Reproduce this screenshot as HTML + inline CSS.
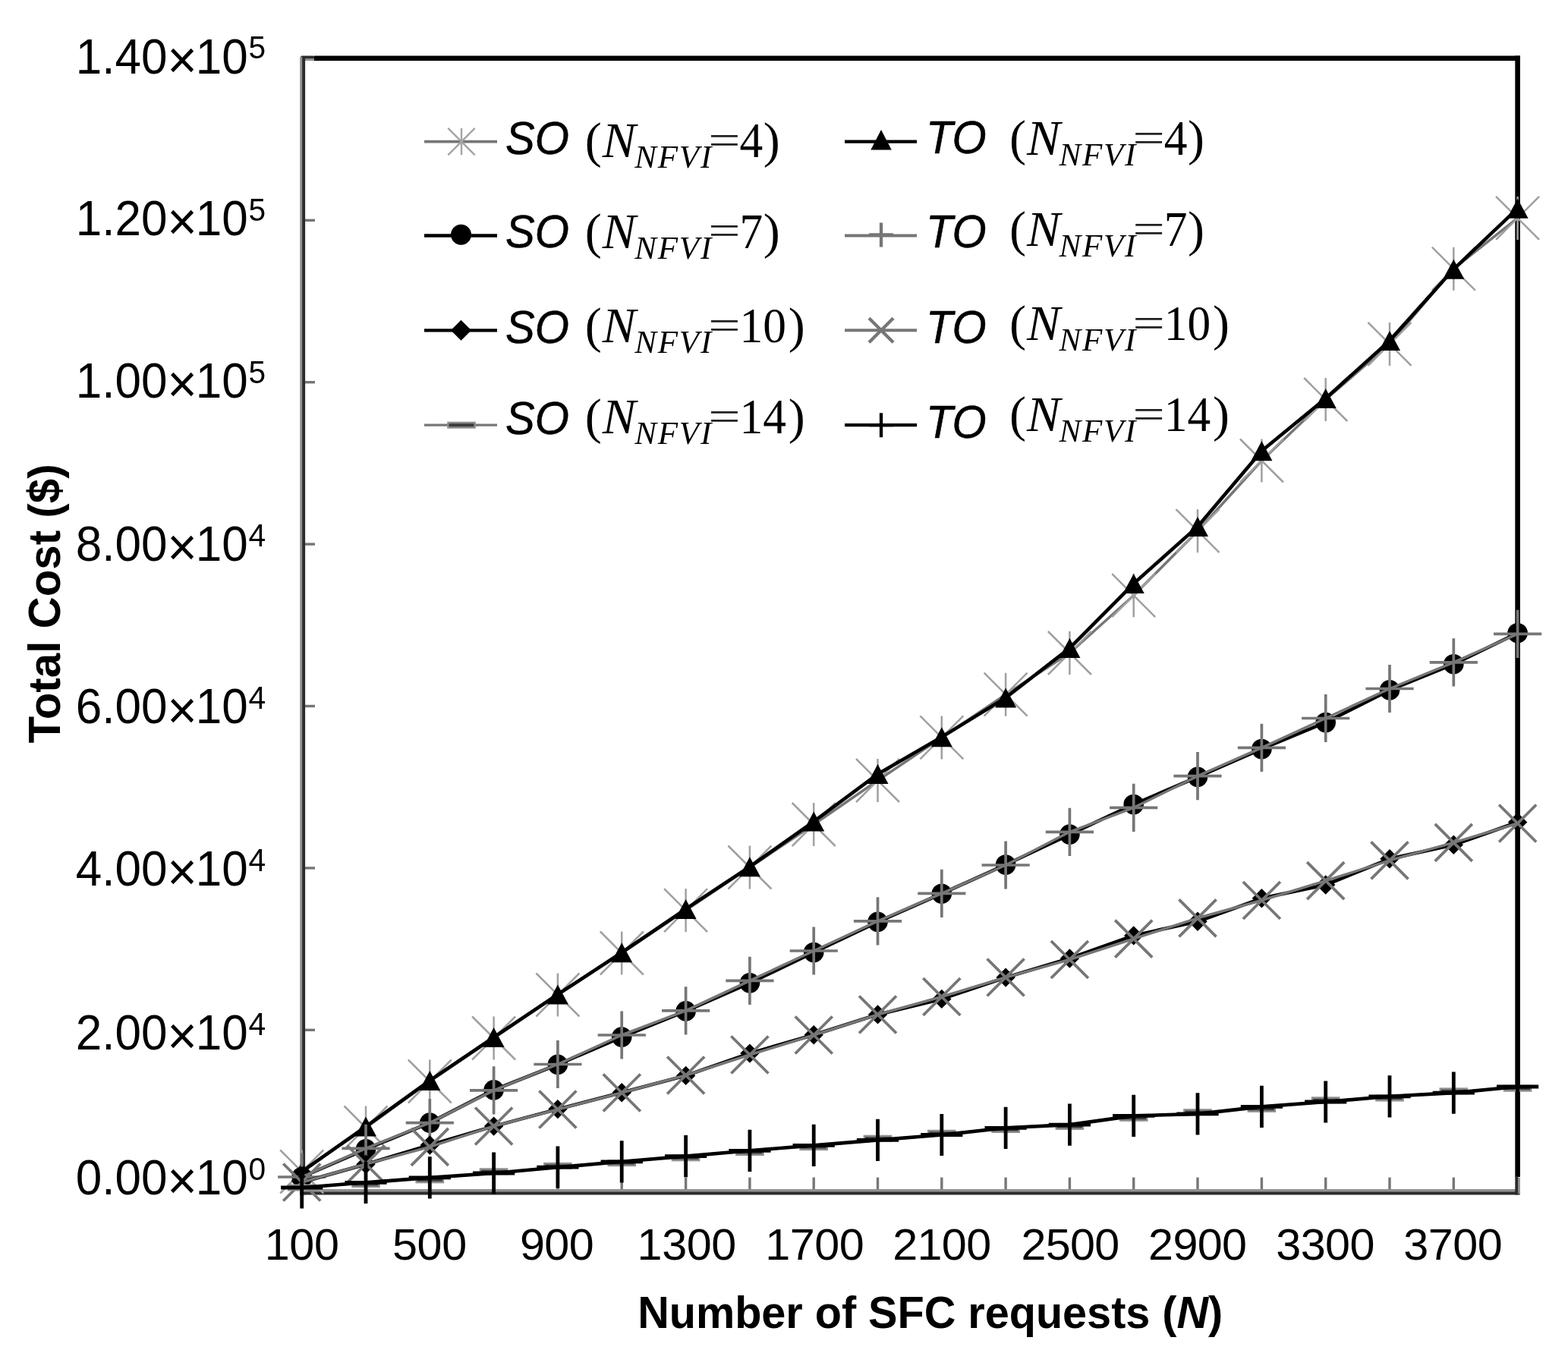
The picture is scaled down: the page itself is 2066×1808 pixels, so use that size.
<!DOCTYPE html>
<html lang="en">
<head>
<meta charset="utf-8">
<title>Total Cost vs Number of SFC requests</title>
<style>
html,body{margin:0;padding:0;background:#fff;}
body{width:2066px;height:1808px;overflow:hidden;}
svg{display:block;}
text{fill:#000;}
.yl{font-family:"Liberation Sans",Arial,Helvetica,sans-serif;font-size:64px;}
.mul{font-size:70px;}
.ye{font-size:42px;}
.xl{font-family:"Liberation Sans",Arial,Helvetica,sans-serif;font-size:57px;}
.ti{font-family:"Liberation Sans",Arial,Helvetica,sans-serif;font-size:60px;font-weight:bold;}
.si{font-family:"Liberation Sans",Arial,Helvetica,sans-serif;font-size:60.3px;font-style:italic;stroke:#000;stroke-width:0.5px;}
.se{font-family:"Liberation Serif","Times New Roman",Times,serif;font-size:66px;}
.se .it{font-style:italic;}
.se .sub{font-style:italic;font-size:43px;letter-spacing:1.8px;}
.eq{font-family:"Liberation Serif","Times New Roman",Times,serif;font-size:75px;fill:#222;}
</style>
</head>
<body>
<svg xmlns="http://www.w3.org/2000/svg" width="2066" height="1808" viewBox="0 0 2066 1808">
<rect width="2066" height="1808" fill="#fff"/>
<g id="axes">
<rect x="396.0" y="1551.6" width="3.4" height="18" fill="#777"/>
<rect x="480.3" y="1551.6" width="3.4" height="18" fill="#777"/>
<rect x="564.6" y="1551.6" width="3.4" height="18" fill="#777"/>
<rect x="648.9" y="1551.6" width="3.4" height="18" fill="#777"/>
<rect x="733.2" y="1551.6" width="3.4" height="18" fill="#777"/>
<rect x="817.5" y="1551.6" width="3.4" height="18" fill="#777"/>
<rect x="901.9" y="1551.6" width="3.4" height="18" fill="#777"/>
<rect x="986.2" y="1551.6" width="3.4" height="18" fill="#777"/>
<rect x="1070.5" y="1551.6" width="3.4" height="18" fill="#777"/>
<rect x="1154.8" y="1551.6" width="3.4" height="18" fill="#777"/>
<rect x="1239.1" y="1551.6" width="3.4" height="18" fill="#777"/>
<rect x="1323.4" y="1551.6" width="3.4" height="18" fill="#777"/>
<rect x="1407.7" y="1551.6" width="3.4" height="18" fill="#777"/>
<rect x="1492.0" y="1551.6" width="3.4" height="18" fill="#777"/>
<rect x="1576.3" y="1551.6" width="3.4" height="18" fill="#777"/>
<rect x="1660.7" y="1551.6" width="3.4" height="18" fill="#777"/>
<rect x="1745.0" y="1551.6" width="3.4" height="18" fill="#777"/>
<rect x="1829.3" y="1551.6" width="3.4" height="18" fill="#777"/>
<rect x="1913.6" y="1551.6" width="3.4" height="18" fill="#777"/>
<rect x="1997.9" y="1551.6" width="3.4" height="18" fill="#777"/>
<rect x="400" y="288.6" width="15" height="3.4" fill="#757575"/>
<rect x="400" y="502.0" width="15" height="3.4" fill="#757575"/>
<rect x="400" y="715.4" width="15" height="3.4" fill="#757575"/>
<rect x="400" y="928.8" width="15" height="3.4" fill="#757575"/>
<rect x="400" y="1142.2" width="15" height="3.4" fill="#757575"/>
<rect x="400" y="1355.6" width="15" height="3.4" fill="#757575"/>
<rect x="400" y="1569.0" width="15" height="3.4" fill="#757575"/>
<rect x="396.2" y="73.5" width="18" height="4" rx="1.5" fill="#2b2b2b"/>
<rect x="400" y="77.2" width="14.2" height="2.8" fill="#8e8e8e"/>
<rect x="395.2" y="75" width="3.6" height="1499.5" fill="#909090"/>
<rect x="398.2" y="74" width="3.9" height="1500.5" fill="#2b2b2b"/>
<rect x="395.2" y="1567.0" width="1607.4" height="4" fill="#909090"/>
<rect x="395.2" y="1570.6" width="1607.4" height="3.9" fill="#2b2b2b"/>
<rect x="414" y="73.5" width="1588.9" height="6.6" fill="#000"/>
<rect x="1996.3" y="73.5" width="6.6" height="1477.5" fill="#000"/>
<rect x="1996.3" y="1550" width="3.8" height="24.5" fill="#2b2b2b"/>
<rect x="2000.1" y="1552" width="2.8" height="21" fill="#909090"/>
</g>
<g id="series">
<polyline points="397.7,1544.0 482.0,1486.0 566.3,1425.0 650.6,1368.0 734.9,1311.0 819.2,1256.0 903.6,1199.6 987.9,1143.0 1072.2,1086.5 1156.5,1028.5 1240.8,971.9 1325.1,915.2 1409.4,860.5 1493.7,784.7 1578.0,699.7 1662.4,607.0 1746.7,526.5 1831.0,453.4 1915.3,354.2 1999.6,287.4" fill="none" stroke="#767676" stroke-width="3.5" stroke-linejoin="round"/>
<path d="M397.7 1515.5V1572.5M369.2 1515.5L426.2 1572.5M369.2 1572.5L426.2 1515.5" stroke="#a0a0a0" stroke-width="2.5" fill="none"/>
<path d="M482.0 1457.5V1514.5M453.5 1457.5L510.5 1514.5M453.5 1514.5L510.5 1457.5" stroke="#a0a0a0" stroke-width="2.5" fill="none"/>
<path d="M566.3 1396.5V1453.5M537.8 1396.5L594.8 1453.5M537.8 1453.5L594.8 1396.5" stroke="#a0a0a0" stroke-width="2.5" fill="none"/>
<path d="M650.6 1339.5V1396.5M622.1 1339.5L679.1 1396.5M622.1 1396.5L679.1 1339.5" stroke="#a0a0a0" stroke-width="2.5" fill="none"/>
<path d="M734.9 1282.5V1339.5M706.4 1282.5L763.4 1339.5M706.4 1339.5L763.4 1282.5" stroke="#a0a0a0" stroke-width="2.5" fill="none"/>
<path d="M819.2 1227.5V1284.5M790.8 1227.5L847.8 1284.5M790.8 1284.5L847.8 1227.5" stroke="#a0a0a0" stroke-width="2.5" fill="none"/>
<path d="M903.6 1171.1V1228.1M875.1 1171.1L932.1 1228.1M875.1 1228.1L932.1 1171.1" stroke="#a0a0a0" stroke-width="2.5" fill="none"/>
<path d="M987.9 1114.5V1171.5M959.4 1114.5L1016.4 1171.5M959.4 1171.5L1016.4 1114.5" stroke="#a0a0a0" stroke-width="2.5" fill="none"/>
<path d="M1072.2 1058.0V1115.0M1043.7 1058.0L1100.7 1115.0M1043.7 1115.0L1100.7 1058.0" stroke="#a0a0a0" stroke-width="2.5" fill="none"/>
<path d="M1156.5 1000.0V1057.0M1128.0 1000.0L1185.0 1057.0M1128.0 1057.0L1185.0 1000.0" stroke="#a0a0a0" stroke-width="2.5" fill="none"/>
<path d="M1240.8 943.4V1000.4M1212.3 943.4L1269.3 1000.4M1212.3 1000.4L1269.3 943.4" stroke="#a0a0a0" stroke-width="2.5" fill="none"/>
<path d="M1325.1 886.7V943.7M1296.6 886.7L1353.6 943.7M1296.6 943.7L1353.6 886.7" stroke="#a0a0a0" stroke-width="2.5" fill="none"/>
<path d="M1409.4 832.0V889.0M1380.9 832.0L1437.9 889.0M1380.9 889.0L1437.9 832.0" stroke="#a0a0a0" stroke-width="2.5" fill="none"/>
<path d="M1493.7 756.2V813.2M1465.2 756.2L1522.2 813.2M1465.2 813.2L1522.2 756.2" stroke="#a0a0a0" stroke-width="2.5" fill="none"/>
<path d="M1578.0 671.2V728.2M1549.5 671.2L1606.5 728.2M1549.5 728.2L1606.5 671.2" stroke="#a0a0a0" stroke-width="2.5" fill="none"/>
<path d="M1662.4 578.5V635.5M1633.9 578.5L1690.9 635.5M1633.9 635.5L1690.9 578.5" stroke="#a0a0a0" stroke-width="2.5" fill="none"/>
<path d="M1746.7 498.0V555.0M1718.2 498.0L1775.2 555.0M1718.2 555.0L1775.2 498.0" stroke="#a0a0a0" stroke-width="2.5" fill="none"/>
<path d="M1831.0 424.9V481.9M1802.5 424.9L1859.5 481.9M1802.5 481.9L1859.5 424.9" stroke="#a0a0a0" stroke-width="2.5" fill="none"/>
<path d="M1915.3 325.7V382.7M1886.8 325.7L1943.8 382.7M1886.8 382.7L1943.8 325.7" stroke="#a0a0a0" stroke-width="2.5" fill="none"/>
<path d="M1999.6 258.9V315.9M1971.1 258.9L2028.1 315.9M1971.1 315.9L2028.1 258.9" stroke="#a0a0a0" stroke-width="2.5" fill="none"/>
<polyline points="397.7,1544.0 482.0,1484.6 566.3,1423.9 650.6,1366.9 734.9,1310.4 819.2,1255.3 903.6,1197.9 987.9,1142.2 1072.2,1082.6 1156.5,1020.1 1240.8,971.3 1325.1,919.5 1409.4,854.1 1493.7,769.1 1578.0,693.9 1662.4,594.3 1746.7,525.0 1831.0,448.9 1915.3,354.8 1999.6,274.7" fill="none" stroke="#000" stroke-width="4.6" stroke-linejoin="round"/>
<path d="M397.7 1531.0L411.7 1557.0H383.7Z" fill="#000"/>
<path d="M482.0 1471.6L496.0 1497.6H468.0Z" fill="#000"/>
<path d="M566.3 1410.9L580.3 1436.9H552.3Z" fill="#000"/>
<path d="M650.6 1353.9L664.6 1379.9H636.6Z" fill="#000"/>
<path d="M734.9 1297.4L748.9 1323.4H720.9Z" fill="#000"/>
<path d="M819.2 1242.3L833.2 1268.3H805.2Z" fill="#000"/>
<path d="M903.6 1184.9L917.6 1210.9H889.6Z" fill="#000"/>
<path d="M987.9 1129.2L1001.9 1155.2H973.9Z" fill="#000"/>
<path d="M1072.2 1069.6L1086.2 1095.6H1058.2Z" fill="#000"/>
<path d="M1156.5 1007.1L1170.5 1033.1H1142.5Z" fill="#000"/>
<path d="M1240.8 958.3L1254.8 984.3H1226.8Z" fill="#000"/>
<path d="M1325.1 906.5L1339.1 932.5H1311.1Z" fill="#000"/>
<path d="M1409.4 841.1L1423.4 867.1H1395.4Z" fill="#000"/>
<path d="M1493.7 756.1L1507.7 782.1H1479.7Z" fill="#000"/>
<path d="M1578.0 680.9L1592.0 706.9H1564.0Z" fill="#000"/>
<path d="M1662.4 581.3L1676.4 607.3H1648.4Z" fill="#000"/>
<path d="M1746.7 512.0L1760.7 538.0H1732.7Z" fill="#000"/>
<path d="M1831.0 435.9L1845.0 461.9H1817.0Z" fill="#000"/>
<path d="M1915.3 341.8L1929.3 367.8H1901.3Z" fill="#000"/>
<path d="M1999.6 261.7L2013.6 287.7H1985.6Z" fill="#000"/>
<polyline points="397.7,1551.0 482.0,1514.4 566.3,1479.6 650.6,1436.3 734.9,1402.8 819.2,1366.6 903.6,1332.4 987.9,1295.3 1072.2,1255.0 1156.5,1214.8 1240.8,1177.7 1325.1,1139.5 1409.4,1099.6 1493.7,1060.0 1578.0,1023.8 1662.4,987.0 1746.7,952.0 1831.0,909.4 1915.3,875.2 1999.6,834.2" fill="none" stroke="#000" stroke-width="4.6" stroke-linejoin="round"/>
<circle cx="397.7" cy="1551.0" r="13.3" fill="#000"/>
<circle cx="482.0" cy="1514.4" r="13.3" fill="#000"/>
<circle cx="566.3" cy="1479.6" r="13.3" fill="#000"/>
<circle cx="650.6" cy="1436.3" r="13.3" fill="#000"/>
<circle cx="734.9" cy="1402.8" r="13.3" fill="#000"/>
<circle cx="819.2" cy="1366.6" r="13.3" fill="#000"/>
<circle cx="903.6" cy="1332.4" r="13.3" fill="#000"/>
<circle cx="987.9" cy="1295.3" r="13.3" fill="#000"/>
<circle cx="1072.2" cy="1255.0" r="13.3" fill="#000"/>
<circle cx="1156.5" cy="1214.8" r="13.3" fill="#000"/>
<circle cx="1240.8" cy="1177.7" r="13.3" fill="#000"/>
<circle cx="1325.1" cy="1139.5" r="13.3" fill="#000"/>
<circle cx="1409.4" cy="1099.6" r="13.3" fill="#000"/>
<circle cx="1493.7" cy="1060.0" r="13.3" fill="#000"/>
<circle cx="1578.0" cy="1023.8" r="13.3" fill="#000"/>
<circle cx="1662.4" cy="987.0" r="13.3" fill="#000"/>
<circle cx="1746.7" cy="952.0" r="13.3" fill="#000"/>
<circle cx="1831.0" cy="909.4" r="13.3" fill="#000"/>
<circle cx="1915.3" cy="875.2" r="13.3" fill="#000"/>
<circle cx="1999.6" cy="834.2" r="13.3" fill="#000"/>
<polyline points="397.7,1551.0 482.0,1513.4 566.3,1479.6 650.6,1436.9 734.9,1402.5 819.2,1364.0 903.6,1331.8 987.9,1292.4 1072.2,1253.0 1156.5,1213.9 1240.8,1177.3 1325.1,1140.0 1409.4,1096.3 1493.7,1064.3 1578.0,1022.7 1662.4,985.3 1746.7,946.5 1831.0,907.5 1915.3,872.9 1999.6,835.4" fill="none" stroke="#767676" stroke-width="3.5" stroke-linejoin="round"/>
<path d="M397.7 1519.4V1582.6M366.1 1551.0H429.3" stroke="#767676" stroke-width="3.7" fill="none"/>
<path d="M482.0 1481.8V1545.0M450.4 1513.4H513.6" stroke="#767676" stroke-width="3.7" fill="none"/>
<path d="M566.3 1448.0V1511.2M534.7 1479.6H597.9" stroke="#767676" stroke-width="3.7" fill="none"/>
<path d="M650.6 1405.3V1468.5M619.0 1436.9H682.2" stroke="#767676" stroke-width="3.7" fill="none"/>
<path d="M734.9 1370.9V1434.1M703.3 1402.5H766.5" stroke="#767676" stroke-width="3.7" fill="none"/>
<path d="M819.2 1332.4V1395.6M787.6 1364.0H850.9" stroke="#767676" stroke-width="3.7" fill="none"/>
<path d="M903.6 1300.2V1363.4M872.0 1331.8H935.2" stroke="#767676" stroke-width="3.7" fill="none"/>
<path d="M987.9 1260.8V1324.0M956.3 1292.4H1019.5" stroke="#767676" stroke-width="3.7" fill="none"/>
<path d="M1072.2 1221.4V1284.6M1040.6 1253.0H1103.8" stroke="#767676" stroke-width="3.7" fill="none"/>
<path d="M1156.5 1182.3V1245.5M1124.9 1213.9H1188.1" stroke="#767676" stroke-width="3.7" fill="none"/>
<path d="M1240.8 1145.7V1208.9M1209.2 1177.3H1272.4" stroke="#767676" stroke-width="3.7" fill="none"/>
<path d="M1325.1 1108.4V1171.6M1293.5 1140.0H1356.7" stroke="#767676" stroke-width="3.7" fill="none"/>
<path d="M1409.4 1064.7V1127.9M1377.8 1096.3H1441.0" stroke="#767676" stroke-width="3.7" fill="none"/>
<path d="M1493.7 1032.7V1095.9M1462.1 1064.3H1525.3" stroke="#767676" stroke-width="3.7" fill="none"/>
<path d="M1578.0 991.1V1054.3M1546.4 1022.7H1609.6" stroke="#767676" stroke-width="3.7" fill="none"/>
<path d="M1662.4 953.7V1016.9M1630.8 985.3H1694.0" stroke="#767676" stroke-width="3.7" fill="none"/>
<path d="M1746.7 914.9V978.1M1715.1 946.5H1778.3" stroke="#767676" stroke-width="3.7" fill="none"/>
<path d="M1831.0 875.9V939.1M1799.4 907.5H1862.6" stroke="#767676" stroke-width="3.7" fill="none"/>
<path d="M1915.3 841.3V904.5M1883.7 872.9H1946.9" stroke="#767676" stroke-width="3.7" fill="none"/>
<path d="M1999.6 803.8V867.0M1968.0 835.4H2031.2" stroke="#767676" stroke-width="3.7" fill="none"/>
<polyline points="397.7,1558.0 482.0,1534.3 566.3,1509.0 650.6,1484.1 734.9,1461.6 819.2,1439.8 903.6,1417.4 987.9,1388.1 1072.2,1363.7 1156.5,1336.9 1240.8,1316.4 1325.1,1288.1 1409.4,1263.0 1493.7,1232.9 1578.0,1214.3 1662.4,1183.8 1746.7,1166.0 1831.0,1131.8 1915.3,1113.3 1999.6,1083.5" fill="none" stroke="#000" stroke-width="4.6" stroke-linejoin="round"/>
<path d="M397.7 1545.3L410.4 1558.0L397.7 1570.7L385.0 1558.0Z" fill="#000"/>
<path d="M482.0 1521.6L494.7 1534.3L482.0 1547.0L469.3 1534.3Z" fill="#000"/>
<path d="M566.3 1496.3L579.0 1509.0L566.3 1521.7L553.6 1509.0Z" fill="#000"/>
<path d="M650.6 1471.4L663.3 1484.1L650.6 1496.8L637.9 1484.1Z" fill="#000"/>
<path d="M734.9 1448.9L747.6 1461.6L734.9 1474.3L722.2 1461.6Z" fill="#000"/>
<path d="M819.2 1427.1L832.0 1439.8L819.2 1452.5L806.5 1439.8Z" fill="#000"/>
<path d="M903.6 1404.7L916.3 1417.4L903.6 1430.1L890.9 1417.4Z" fill="#000"/>
<path d="M987.9 1375.4L1000.6 1388.1L987.9 1400.8L975.2 1388.1Z" fill="#000"/>
<path d="M1072.2 1351.0L1084.9 1363.7L1072.2 1376.4L1059.5 1363.7Z" fill="#000"/>
<path d="M1156.5 1324.2L1169.2 1336.9L1156.5 1349.6L1143.8 1336.9Z" fill="#000"/>
<path d="M1240.8 1303.7L1253.5 1316.4L1240.8 1329.1L1228.1 1316.4Z" fill="#000"/>
<path d="M1325.1 1275.4L1337.8 1288.1L1325.1 1300.8L1312.4 1288.1Z" fill="#000"/>
<path d="M1409.4 1250.3L1422.1 1263.0L1409.4 1275.7L1396.7 1263.0Z" fill="#000"/>
<path d="M1493.7 1220.2L1506.4 1232.9L1493.7 1245.6L1481.0 1232.9Z" fill="#000"/>
<path d="M1578.0 1201.6L1590.7 1214.3L1578.0 1227.0L1565.3 1214.3Z" fill="#000"/>
<path d="M1662.4 1171.1L1675.1 1183.8L1662.4 1196.5L1649.7 1183.8Z" fill="#000"/>
<path d="M1746.7 1153.3L1759.4 1166.0L1746.7 1178.7L1734.0 1166.0Z" fill="#000"/>
<path d="M1831.0 1119.1L1843.7 1131.8L1831.0 1144.5L1818.3 1131.8Z" fill="#000"/>
<path d="M1915.3 1100.6L1928.0 1113.3L1915.3 1126.0L1902.6 1113.3Z" fill="#000"/>
<path d="M1999.6 1070.8L2012.3 1083.5L1999.6 1096.2L1986.9 1083.5Z" fill="#000"/>
<polyline points="397.7,1558.0 482.0,1534.0 566.3,1511.4 650.6,1484.0 734.9,1462.0 819.2,1440.0 903.6,1417.0 987.9,1390.0 1072.2,1364.0 1156.5,1337.0 1240.8,1313.5 1325.1,1288.0 1409.4,1264.5 1493.7,1237.2 1578.0,1209.8 1662.4,1186.5 1746.7,1160.7 1831.0,1133.8 1915.3,1110.4 1999.6,1085.0" fill="none" stroke="#767676" stroke-width="3.5" stroke-linejoin="round"/>
<path d="M373.2 1533.5L422.2 1582.5M373.2 1582.5L422.2 1533.5" stroke="#767676" stroke-width="3.8" fill="none"/>
<path d="M457.5 1509.5L506.5 1558.5M457.5 1558.5L506.5 1509.5" stroke="#767676" stroke-width="3.8" fill="none"/>
<path d="M541.8 1486.9L590.8 1535.9M541.8 1535.9L590.8 1486.9" stroke="#767676" stroke-width="3.8" fill="none"/>
<path d="M626.1 1459.5L675.1 1508.5M626.1 1508.5L675.1 1459.5" stroke="#767676" stroke-width="3.8" fill="none"/>
<path d="M710.4 1437.5L759.4 1486.5M710.4 1486.5L759.4 1437.5" stroke="#767676" stroke-width="3.8" fill="none"/>
<path d="M794.8 1415.5L843.8 1464.5M794.8 1464.5L843.8 1415.5" stroke="#767676" stroke-width="3.8" fill="none"/>
<path d="M879.1 1392.5L928.1 1441.5M879.1 1441.5L928.1 1392.5" stroke="#767676" stroke-width="3.8" fill="none"/>
<path d="M963.4 1365.5L1012.4 1414.5M963.4 1414.5L1012.4 1365.5" stroke="#767676" stroke-width="3.8" fill="none"/>
<path d="M1047.7 1339.5L1096.7 1388.5M1047.7 1388.5L1096.7 1339.5" stroke="#767676" stroke-width="3.8" fill="none"/>
<path d="M1132.0 1312.5L1181.0 1361.5M1132.0 1361.5L1181.0 1312.5" stroke="#767676" stroke-width="3.8" fill="none"/>
<path d="M1216.3 1289.0L1265.3 1338.0M1216.3 1338.0L1265.3 1289.0" stroke="#767676" stroke-width="3.8" fill="none"/>
<path d="M1300.6 1263.5L1349.6 1312.5M1300.6 1312.5L1349.6 1263.5" stroke="#767676" stroke-width="3.8" fill="none"/>
<path d="M1384.9 1240.0L1433.9 1289.0M1384.9 1289.0L1433.9 1240.0" stroke="#767676" stroke-width="3.8" fill="none"/>
<path d="M1469.2 1212.7L1518.2 1261.7M1469.2 1261.7L1518.2 1212.7" stroke="#767676" stroke-width="3.8" fill="none"/>
<path d="M1553.5 1185.3L1602.5 1234.3M1553.5 1234.3L1602.5 1185.3" stroke="#767676" stroke-width="3.8" fill="none"/>
<path d="M1637.9 1162.0L1686.9 1211.0M1637.9 1211.0L1686.9 1162.0" stroke="#767676" stroke-width="3.8" fill="none"/>
<path d="M1722.2 1136.2L1771.2 1185.2M1722.2 1185.2L1771.2 1136.2" stroke="#767676" stroke-width="3.8" fill="none"/>
<path d="M1806.5 1109.3L1855.5 1158.3M1806.5 1158.3L1855.5 1109.3" stroke="#767676" stroke-width="3.8" fill="none"/>
<path d="M1890.8 1085.9L1939.8 1134.9M1890.8 1134.9L1939.8 1085.9" stroke="#767676" stroke-width="3.8" fill="none"/>
<path d="M1975.1 1060.5L2024.1 1109.5M1975.1 1109.5L2024.1 1060.5" stroke="#767676" stroke-width="3.8" fill="none"/>
<polyline points="397.7,1565.0 482.0,1558.3 566.3,1551.9 650.6,1546.0 734.9,1538.2 819.2,1530.8 903.6,1523.6 987.9,1516.3 1072.2,1509.4 1156.5,1502.4 1240.8,1495.5 1325.1,1486.3 1409.4,1482.1 1493.7,1470.4 1578.0,1467.9 1662.4,1458.4 1746.7,1452.0 1831.0,1444.8 1915.3,1440.1 1999.6,1432.0" fill="none" stroke="#767676" stroke-width="3.5" stroke-linejoin="round"/>
<rect x="378.9" y="1560.5" width="37.6" height="9.0" fill="#8e8e8e"/>
<rect x="381.2" y="1563.0" width="33.0" height="4.0" fill="#3c3c3c"/>
<rect x="463.2" y="1556.0" width="37.6" height="9.0" fill="#8e8e8e"/>
<rect x="465.5" y="1558.5" width="33.0" height="4.0" fill="#3c3c3c"/>
<rect x="547.5" y="1550.3" width="37.6" height="9.0" fill="#8e8e8e"/>
<rect x="549.8" y="1552.8" width="33.0" height="4.0" fill="#3c3c3c"/>
<rect x="631.8" y="1539.3" width="37.6" height="9.0" fill="#8e8e8e"/>
<rect x="634.1" y="1541.8" width="33.0" height="4.0" fill="#3c3c3c"/>
<rect x="716.1" y="1531.9" width="37.6" height="9.0" fill="#8e8e8e"/>
<rect x="718.4" y="1534.4" width="33.0" height="4.0" fill="#3c3c3c"/>
<rect x="800.5" y="1528.1" width="37.6" height="9.0" fill="#8e8e8e"/>
<rect x="802.8" y="1530.6" width="33.0" height="4.0" fill="#3c3c3c"/>
<rect x="884.8" y="1521.3" width="37.6" height="9.0" fill="#8e8e8e"/>
<rect x="887.1" y="1523.8" width="33.0" height="4.0" fill="#3c3c3c"/>
<rect x="969.1" y="1514.0" width="37.6" height="9.0" fill="#8e8e8e"/>
<rect x="971.4" y="1516.5" width="33.0" height="4.0" fill="#3c3c3c"/>
<rect x="1053.4" y="1507.1" width="37.6" height="9.0" fill="#8e8e8e"/>
<rect x="1055.7" y="1509.6" width="33.0" height="4.0" fill="#3c3c3c"/>
<rect x="1137.7" y="1495.7" width="37.6" height="9.0" fill="#8e8e8e"/>
<rect x="1140.0" y="1498.2" width="33.0" height="4.0" fill="#3c3c3c"/>
<rect x="1222.0" y="1488.8" width="37.6" height="9.0" fill="#8e8e8e"/>
<rect x="1224.3" y="1491.3" width="33.0" height="4.0" fill="#3c3c3c"/>
<rect x="1306.3" y="1484.0" width="37.6" height="9.0" fill="#8e8e8e"/>
<rect x="1308.6" y="1486.5" width="33.0" height="4.0" fill="#3c3c3c"/>
<rect x="1390.6" y="1479.9" width="37.6" height="9.0" fill="#8e8e8e"/>
<rect x="1392.9" y="1482.4" width="33.0" height="4.0" fill="#3c3c3c"/>
<rect x="1474.9" y="1468.8" width="37.6" height="9.0" fill="#8e8e8e"/>
<rect x="1477.2" y="1471.3" width="33.0" height="4.0" fill="#3c3c3c"/>
<rect x="1559.2" y="1461.2" width="37.6" height="9.0" fill="#8e8e8e"/>
<rect x="1561.5" y="1463.7" width="33.0" height="4.0" fill="#3c3c3c"/>
<rect x="1643.6" y="1456.8" width="37.6" height="9.0" fill="#8e8e8e"/>
<rect x="1645.9" y="1459.3" width="33.0" height="4.0" fill="#3c3c3c"/>
<rect x="1727.9" y="1445.3" width="37.6" height="9.0" fill="#8e8e8e"/>
<rect x="1730.2" y="1447.8" width="33.0" height="4.0" fill="#3c3c3c"/>
<rect x="1812.2" y="1442.5" width="37.6" height="9.0" fill="#8e8e8e"/>
<rect x="1814.5" y="1445.0" width="33.0" height="4.0" fill="#3c3c3c"/>
<rect x="1896.5" y="1433.4" width="37.6" height="9.0" fill="#8e8e8e"/>
<rect x="1898.8" y="1435.9" width="33.0" height="4.0" fill="#3c3c3c"/>
<rect x="1980.8" y="1429.7" width="37.6" height="9.0" fill="#8e8e8e"/>
<rect x="1983.1" y="1432.2" width="33.0" height="4.0" fill="#3c3c3c"/>
<polyline points="397.7,1565.0 482.0,1558.3 566.3,1551.9 650.6,1546.0 734.9,1538.2 819.2,1530.8 903.6,1523.6 987.9,1516.3 1072.2,1509.4 1156.5,1502.4 1240.8,1495.5 1325.1,1486.3 1409.4,1482.1 1493.7,1470.4 1578.0,1467.9 1662.4,1458.4 1746.7,1452.0 1831.0,1444.8 1915.3,1440.1 1999.6,1432.0" fill="none" stroke="#000" stroke-width="4.6" stroke-linejoin="round"/>
<path d="M397.7 1537.4V1592.6M370.1 1565.0H425.3" stroke="#000" stroke-width="4.8" fill="none"/>
<path d="M482.0 1530.7V1585.9M454.4 1558.3H509.6" stroke="#000" stroke-width="4.8" fill="none"/>
<path d="M566.3 1524.3V1579.5M538.7 1551.9H593.9" stroke="#000" stroke-width="4.8" fill="none"/>
<path d="M650.6 1518.4V1573.6M623.0 1546.0H678.2" stroke="#000" stroke-width="4.8" fill="none"/>
<path d="M734.9 1510.6V1565.8M707.3 1538.2H762.5" stroke="#000" stroke-width="4.8" fill="none"/>
<path d="M819.2 1503.2V1558.4M791.6 1530.8H846.9" stroke="#000" stroke-width="4.8" fill="none"/>
<path d="M903.6 1496.0V1551.2M876.0 1523.6H931.2" stroke="#000" stroke-width="4.8" fill="none"/>
<path d="M987.9 1488.7V1543.9M960.3 1516.3H1015.5" stroke="#000" stroke-width="4.8" fill="none"/>
<path d="M1072.2 1481.8V1537.0M1044.6 1509.4H1099.8" stroke="#000" stroke-width="4.8" fill="none"/>
<path d="M1156.5 1474.8V1530.0M1128.9 1502.4H1184.1" stroke="#000" stroke-width="4.8" fill="none"/>
<path d="M1240.8 1467.9V1523.1M1213.2 1495.5H1268.4" stroke="#000" stroke-width="4.8" fill="none"/>
<path d="M1325.1 1458.7V1513.9M1297.5 1486.3H1352.7" stroke="#000" stroke-width="4.8" fill="none"/>
<path d="M1409.4 1454.5V1509.7M1381.8 1482.1H1437.0" stroke="#000" stroke-width="4.8" fill="none"/>
<path d="M1493.7 1442.8V1498.0M1466.1 1470.4H1521.3" stroke="#000" stroke-width="4.8" fill="none"/>
<path d="M1578.0 1440.3V1495.5M1550.4 1467.9H1605.6" stroke="#000" stroke-width="4.8" fill="none"/>
<path d="M1662.4 1430.8V1486.0M1634.8 1458.4H1690.0" stroke="#000" stroke-width="4.8" fill="none"/>
<path d="M1746.7 1424.4V1479.6M1719.1 1452.0H1774.3" stroke="#000" stroke-width="4.8" fill="none"/>
<path d="M1831.0 1417.2V1472.4M1803.4 1444.8H1858.6" stroke="#000" stroke-width="4.8" fill="none"/>
<path d="M1915.3 1412.5V1467.7M1887.7 1440.1H1942.9" stroke="#000" stroke-width="4.8" fill="none"/>
<path d="M1999.6 1404.4V1459.6M1972.0 1432.0H2027.2" stroke="#000" stroke-width="4.8" fill="none"/>
</g>
<g id="legend">
<path d="M559 186.6H655" stroke="#767676" stroke-width="3.9"/>
<path d="M608.0 168.9V204.3M590.3 168.9L625.7 204.3M590.3 204.3L625.7 168.9" stroke="#a4a4a4" stroke-width="2.4" fill="none"/>
<path d="M559 310.5H655" stroke="#000" stroke-width="4.3"/>
<circle cx="607.5" cy="309.2" r="13.5" fill="#000"/>
<path d="M559 435.3H655" stroke="#000" stroke-width="4.3"/>
<path d="M607.5 421.8L621.0 435.3L607.5 448.8L594.0 435.3Z" fill="#000"/>
<path d="M559 560.2H655" stroke="#767676" stroke-width="3.2"/>
<rect x="589.2" y="555.7" width="37.6" height="9.0" fill="#8e8e8e"/>
<rect x="591.5" y="558.2" width="33.0" height="4.0" fill="#3c3c3c"/>
<path d="M1113 186.6H1208" stroke="#000" stroke-width="4.3"/>
<path d="M1161.0 171.1L1174.7 197.5H1147.3Z" fill="#000"/>
<path d="M1113 310.5H1208" stroke="#767676" stroke-width="3.9"/>
<path d="M1161.0 293.5V325.5M1145.0 309.5H1177.0" stroke="#767676" stroke-width="4.3" fill="none"/>
<path d="M1113 435.3H1208" stroke="#767676" stroke-width="3.9"/>
<path d="M1145.0 419.3L1177.0 451.3M1145.0 451.3L1177.0 419.3" stroke="#767676" stroke-width="4.3" fill="none"/>
<path d="M1113 560.2H1208" stroke="#000" stroke-width="4.3"/>
<path d="M1161.0 544.2V576.2M1145.0 560.2H1177.0" stroke="#000" stroke-width="4.3" fill="none"/>
<text class="si" transform="translate(666.0 202.8) scale(0.962 1)">SO</text>
<text class="se" y="207.2"><tspan x="770.8">(</tspan><tspan class="it" x="793.8">N</tspan><tspan class="sub" x="836.3" y="221.2">NFVI</tspan><tspan x="1005.8" y="207.2">)</tspan></text>
<text class="se" transform="translate(974.6 207.2) scale(0.93 1)">4</text>
<text class="eq" transform="translate(933.3 203.1) scale(1 0.72)">=</text>
<text class="si" transform="translate(666.0 326.0) scale(0.962 1)">SO</text>
<text class="se" y="326.5"><tspan x="770.8">(</tspan><tspan class="it" x="793.8">N</tspan><tspan class="sub" x="836.3" y="340.5">NFVI</tspan><tspan x="1005.8" y="326.5">)</tspan></text>
<text class="se" transform="translate(974.6 326.5) scale(0.93 1)">7</text>
<text class="eq" transform="translate(933.3 322.4) scale(1 0.72)">=</text>
<text class="si" transform="translate(666.0 452.0) scale(0.962 1)">SO</text>
<text class="se" y="451.0"><tspan x="770.8">(</tspan><tspan class="it" x="793.8">N</tspan><tspan class="sub" x="836.3" y="465.0">NFVI</tspan><tspan x="1038.8" y="451.0">)</tspan></text>
<text class="se" transform="translate(974.6 451.0) scale(0.93 1)">10</text>
<text class="eq" transform="translate(933.3 446.9) scale(1 0.72)">=</text>
<text class="si" transform="translate(666.0 572.0) scale(0.962 1)">SO</text>
<text class="se" y="571.0"><tspan x="770.8">(</tspan><tspan class="it" x="793.8">N</tspan><tspan class="sub" x="836.3" y="585.0">NFVI</tspan><tspan x="1038.8" y="571.0">)</tspan></text>
<text class="se" transform="translate(974.6 571.0) scale(0.93 1)">14</text>
<text class="eq" transform="translate(933.3 566.9) scale(1 0.72)">=</text>
<text class="si" transform="translate(1220.0 202.3) scale(0.962 1)">TO</text>
<text class="se" y="204.0"><tspan x="1330.0">(</tspan><tspan class="it" x="1353.0">N</tspan><tspan class="sub" x="1395.5" y="218.0">NFVI</tspan><tspan x="1565.0" y="204.0">)</tspan></text>
<text class="se" transform="translate(1533.8 204.0) scale(0.93 1)">4</text>
<text class="eq" transform="translate(1492.5 199.9) scale(1 0.72)">=</text>
<text class="si" transform="translate(1220.0 326.2) scale(0.962 1)">TO</text>
<text class="se" y="324.0"><tspan x="1330.0">(</tspan><tspan class="it" x="1353.0">N</tspan><tspan class="sub" x="1395.5" y="338.0">NFVI</tspan><tspan x="1565.0" y="324.0">)</tspan></text>
<text class="se" transform="translate(1533.8 324.0) scale(0.93 1)">7</text>
<text class="eq" transform="translate(1492.5 319.9) scale(1 0.72)">=</text>
<text class="si" transform="translate(1220.0 452.0) scale(0.962 1)">TO</text>
<text class="se" y="448.0"><tspan x="1330.0">(</tspan><tspan class="it" x="1353.0">N</tspan><tspan class="sub" x="1395.5" y="462.0">NFVI</tspan><tspan x="1598.0" y="448.0">)</tspan></text>
<text class="se" transform="translate(1533.8 448.0) scale(0.93 1)">10</text>
<text class="eq" transform="translate(1492.5 443.9) scale(1 0.72)">=</text>
<text class="si" transform="translate(1220.0 577.0) scale(0.962 1)">TO</text>
<text class="se" y="567.7"><tspan x="1330.0">(</tspan><tspan class="it" x="1353.0">N</tspan><tspan class="sub" x="1395.5" y="581.7">NFVI</tspan><tspan x="1598.0" y="567.7">)</tspan></text>
<text class="se" transform="translate(1533.8 567.7) scale(0.93 1)">14</text>
<text class="eq" transform="translate(1492.5 563.6) scale(1 0.72)">=</text>
</g>
<g id="labels">
<text class="yl" transform="translate(99.8 96.6) scale(0.969 1)"><tspan x="0" y="0">1.40</tspan><tspan class="mul" x="124.3" y="6.3">×</tspan><tspan x="163.1" y="0">10</tspan><tspan class="ye" x="234.9" y="-19.2">5</tspan></text>
<text class="yl" transform="translate(99.8 310.0) scale(0.969 1)"><tspan x="0" y="0">1.20</tspan><tspan class="mul" x="124.3" y="6.3">×</tspan><tspan x="163.1" y="0">10</tspan><tspan class="ye" x="234.9" y="-19.2">5</tspan></text>
<text class="yl" transform="translate(99.8 523.7) scale(0.969 1)"><tspan x="0" y="0">1.00</tspan><tspan class="mul" x="124.3" y="6.3">×</tspan><tspan x="163.1" y="0">10</tspan><tspan class="ye" x="234.9" y="-19.2">5</tspan></text>
<text class="yl" transform="translate(99.8 738.8) scale(0.969 1)"><tspan x="0" y="0">8.00</tspan><tspan class="mul" x="124.3" y="6.3">×</tspan><tspan x="163.1" y="0">10</tspan><tspan class="ye" x="234.9" y="-19.2">4</tspan></text>
<text class="yl" transform="translate(99.8 953.2) scale(0.969 1)"><tspan x="0" y="0">6.00</tspan><tspan class="mul" x="124.3" y="6.3">×</tspan><tspan x="163.1" y="0">10</tspan><tspan class="ye" x="234.9" y="-19.2">4</tspan></text>
<text class="yl" transform="translate(99.8 1166.9) scale(0.969 1)"><tspan x="0" y="0">4.00</tspan><tspan class="mul" x="124.3" y="6.3">×</tspan><tspan x="163.1" y="0">10</tspan><tspan class="ye" x="234.9" y="-19.2">4</tspan></text>
<text class="yl" transform="translate(99.8 1382.9) scale(0.969 1)"><tspan x="0" y="0">2.00</tspan><tspan class="mul" x="124.3" y="6.3">×</tspan><tspan x="163.1" y="0">10</tspan><tspan class="ye" x="234.9" y="-19.2">4</tspan></text>
<text class="yl" transform="translate(99.8 1573.9) scale(0.969 1)"><tspan x="0" y="0">0.00</tspan><tspan class="mul" x="124.3" y="6.3">×</tspan><tspan x="163.1" y="0">10</tspan><tspan class="ye" x="234.9" y="-19.2">0</tspan></text>
<text class="xl" transform="translate(348.7 1659.7) scale(1.04 1)" style="letter-spacing:-0.31px">100</text>
<text class="xl" transform="translate(516.9 1659.7) scale(1.04 1)" style="letter-spacing:-0.24px">500</text>
<text class="xl" transform="translate(684.9 1659.7) scale(1.04 1)" style="letter-spacing:-0.48px">900</text>
<text class="xl" transform="translate(839.6 1659.7) scale(1.04 1)" style="letter-spacing:-0.42px">1300</text>
<text class="xl" transform="translate(1008.2 1659.7) scale(1.04 1)" style="letter-spacing:-0.45px">1700</text>
<text class="xl" transform="translate(1176.3 1659.7) scale(1.04 1)" style="letter-spacing:-0.66px">2100</text>
<text class="xl" transform="translate(1345.5 1659.7) scale(1.04 1)" style="letter-spacing:-0.66px">2500</text>
<text class="xl" transform="translate(1513.1 1659.7) scale(1.04 1)" style="letter-spacing:-0.66px">2900</text>
<text class="xl" transform="translate(1681.2 1659.7) scale(1.04 1)" style="letter-spacing:-0.50px">3300</text>
<text class="xl" transform="translate(1849.3 1659.7) scale(1.04 1)" style="letter-spacing:-0.47px">3700</text>
</g>
<text class="ti" transform="translate(840.2 1750) scale(0.960 1)">Number of SFC requests (<tspan font-style="italic">N</tspan>)</text>
<text class="ti" transform="translate(79.3 979.6) rotate(-90) scale(0.972 1)">Total Cost ($)</text>
</svg>
</body>
</html>
